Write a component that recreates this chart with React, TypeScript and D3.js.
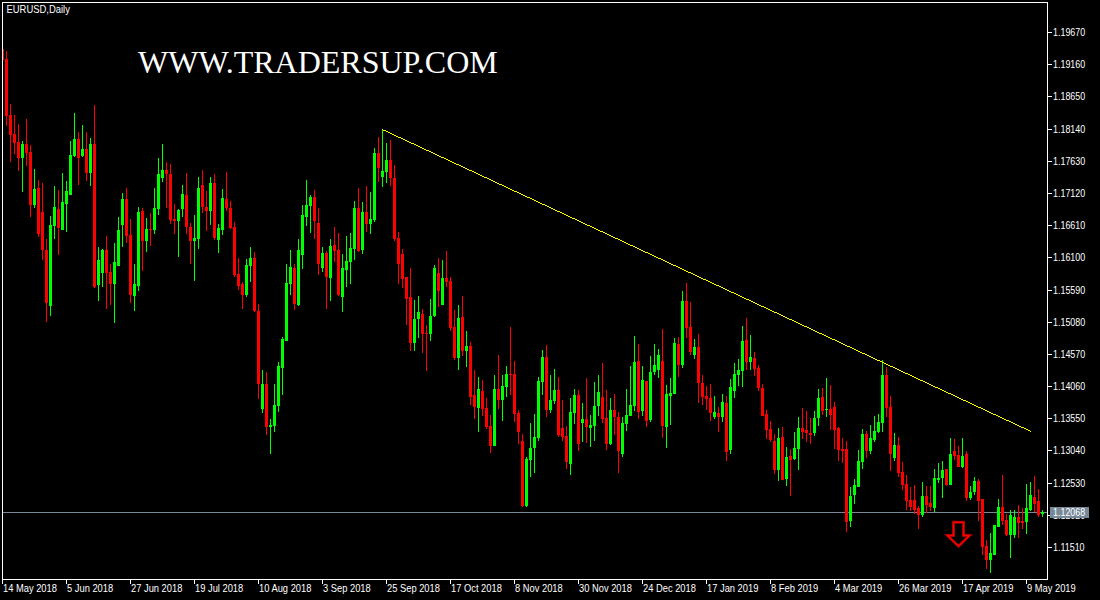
import React from "react";
import * as d3 from "d3";

const PIP = 0.0001;
const highs = [11941,11938,11854,11836,11822,11795,11830,11789,11751,11733,11729,11640,11676,11724,11717,11744,11732,11795,11839,11809,11820,11809,11800,11852,11627,11624,11645,11600,11633,11675,11713,11721,11672,11600,11691,11689,11673,11681,11721,11768,11790,11762,11759,11695,11687,11725,11744,11665,11678,11738,11749,11716,11738,11743,11664,11719,11746,11700,11667,11610,11572,11608,11627,11619,11537,11432,11429,11355,11410,11445,11485,11600,11622,11600,11640,11694,11733,11710,11717,11689,11627,11621,11640,11659,11649,11616,11645,11649,11700,11721,11698,11724,11714,11784,11801,11814,11792,11797,11757,11651,11624,11580,11594,11543,11550,11529,11504,11545,11599,11610,11607,11621,11580,11527,11535,11550,11494,11477,11432,11421,11416,11388,11361,11424,11456,11424,11439,11500,11447,11369,11331,11294,11348,11363,11421,11464,11472,11424,11434,11421,11385,11344,11388,11402,11401,11380,11420,11361,11413,11424,11443,11401,11388,11394,11366,11358,11402,11439,11486,11473,11439,11415,11454,11473,11466,11497,11408,11420,11483,11485,11557,11570,11540,11481,11489,11424,11407,11410,11391,11374,11394,11391,11418,11443,11450,11502,11515,11488,11461,11440,11410,11369,11351,11331,11340,11342,11310,11307,11334,11358,11372,11367,11356,11367,11402,11404,11420,11408,11382,11342,11324,11320,11247,11260,11305,11339,11336,11345,11359,11363,11448,11437,11391,11332,11326,11286,11266,11247,11250,11217,11255,11248,11248,11275,11285,11288,11275,11324,11323,11312,11324,11304,11248,11263,11260,11228,11163,11174,11187,11228,11266,11204,11210,11210,11218,11214,11252,11255,11264,11244,11210];
const lows = [11923,11819,11762,11775,11748,11714,11755,11675,11689,11643,11607,11508,11518,11640,11614,11654,11651,11710,11770,11725,11770,11732,11724,11562,11542,11564,11529,11535,11507,11597,11627,11633,11538,11526,11557,11589,11619,11629,11648,11678,11730,11689,11664,11648,11611,11675,11648,11600,11573,11624,11681,11652,11662,11638,11618,11646,11684,11656,11580,11559,11529,11548,11572,11524,11386,11364,11329,11299,11334,11366,11393,11478,11551,11527,11534,11592,11660,11649,11640,11583,11588,11529,11542,11603,11550,11524,11564,11569,11607,11619,11616,11651,11648,11667,11730,11722,11729,11724,11637,11569,11562,11504,11462,11462,11483,11459,11431,11478,11516,11532,11535,11564,11494,11448,11432,11454,11437,11377,11355,11334,11359,11339,11301,11312,11370,11351,11389,11393,11350,11315,11215,11215,11263,11269,11320,11393,11358,11364,11378,11326,11320,11275,11266,11347,11304,11318,11317,11310,11320,11359,11348,11305,11313,11329,11269,11294,11336,11359,11367,11355,11359,11342,11350,11424,11420,11324,11309,11345,11394,11421,11435,11483,11456,11450,11380,11377,11369,11351,11355,11334,11350,11288,11299,11388,11407,11405,11432,11432,11423,11399,11359,11323,11318,11267,11256,11258,11248,11233,11290,11274,11323,11318,11315,11328,11344,11361,11358,11337,11307,11288,11285,11176,11183,11220,11247,11275,11293,11299,11318,11332,11334,11358,11272,11288,11263,11242,11210,11209,11204,11180,11199,11206,11209,11207,11253,11229,11248,11250,11290,11279,11277,11225,11226,11234,11193,11139,11117,11111,11139,11183,11187,11169,11134,11166,11166,11180,11172,11209,11207,11199,11199];
const opens = [11941,11925,11836,11806,11794,11768,11790,11778,11694,11721,11683,11622,11534,11660,11687,11654,11695,11710,11771,11798,11771,11782,11744,11790,11567,11586,11622,11588,11569,11597,11662,11703,11646,11550,11565,11684,11637,11656,11654,11687,11736,11749,11743,11672,11668,11687,11710,11659,11637,11640,11725,11691,11684,11729,11638,11654,11703,11689,11659,11584,11569,11551,11597,11610,11526,11370,11410,11342,11344,11375,11435,11478,11569,11594,11535,11614,11675,11692,11706,11665,11594,11618,11578,11630,11622,11548,11591,11603,11624,11689,11622,11683,11664,11670,11776,11738,11746,11765,11736,11641,11616,11580,11548,11475,11513,11521,11491,11489,11518,11586,11535,11578,11573,11500,11451,11516,11462,11470,11393,11372,11399,11372,11344,11312,11402,11385,11405,11426,11426,11364,11320,11217,11290,11309,11324,11413,11453,11369,11383,11401,11340,11328,11283,11364,11393,11348,11355,11340,11344,11375,11389,11356,11315,11369,11358,11299,11347,11359,11375,11447,11367,11415,11353,11429,11432,11447,11342,11391,11394,11473,11440,11542,11500,11456,11469,11412,11391,11388,11358,11364,11358,11380,11305,11399,11424,11431,11480,11445,11451,11435,11404,11363,11339,11320,11274,11326,11260,11296,11291,11307,11340,11337,11332,11332,11356,11389,11369,11370,11374,11340,11307,11307,11193,11234,11247,11286,11331,11304,11321,11334,11348,11424,11374,11293,11313,11271,11252,11226,11226,11214,11202,11233,11222,11214,11258,11261,11275,11250,11304,11298,11279,11299,11229,11239,11256,11228,11153,11131,11139,11183,11215,11195,11171,11171,11199,11193,11191,11210,11231,11225,11204];
const closes = [11923,11835,11805,11792,11768,11790,11776,11694,11719,11648,11622,11538,11662,11691,11657,11698,11716,11773,11798,11768,11782,11744,11790,11564,11607,11622,11586,11569,11603,11654,11703,11645,11551,11569,11683,11637,11656,11654,11689,11743,11749,11743,11670,11668,11686,11711,11659,11637,11641,11721,11691,11684,11729,11641,11657,11705,11689,11657,11583,11565,11551,11599,11610,11526,11410,11410,11342,11345,11377,11439,11481,11570,11595,11537,11622,11678,11694,11706,11668,11600,11618,11580,11629,11621,11551,11594,11605,11626,11689,11621,11683,11664,11672,11776,11752,11748,11765,11736,11640,11600,11576,11545,11475,11513,11524,11489,11489,11518,11594,11557,11578,11572,11499,11451,11515,11462,11470,11389,11374,11402,11370,11342,11312,11402,11385,11407,11426,11424,11363,11334,11217,11291,11309,11326,11415,11453,11369,11385,11401,11329,11326,11286,11366,11393,11315,11355,11342,11345,11375,11397,11355,11315,11369,11358,11304,11348,11361,11377,11445,11366,11416,11351,11429,11440,11456,11344,11394,11396,11475,11440,11542,11499,11461,11469,11412,11389,11386,11364,11366,11358,11382,11302,11405,11426,11432,11478,11445,11453,11434,11404,11359,11337,11321,11274,11324,11258,11294,11290,11309,11340,11334,11332,11329,11356,11388,11367,11370,11361,11337,11305,11304,11191,11233,11250,11288,11331,11304,11324,11336,11350,11424,11372,11299,11313,11269,11250,11225,11215,11210,11202,11233,11218,11215,11261,11261,11274,11250,11299,11296,11279,11296,11229,11239,11256,11225,11152,11131,11142,11187,11215,11193,11171,11202,11199,11190,11190,11214,11234,11220,11202,11207];

const dateLabels = ["14 May 2018","5 Jun 2018","27 Jun 2018","19 Jul 2018","10 Aug 2018","3 Sep 2018","25 Sep 2018","17 Oct 2018","8 Nov 2018","30 Nov 2018","24 Dec 2018","17 Jan 2019","8 Feb 2019","4 Mar 2019","26 Mar 2019","17 Apr 2019","9 May 2019"];
const dateStep = 16;
const priceTicks = [1.1967,1.1916,1.1865,1.1814,1.1763,1.1712,1.1661,1.161,1.1559,1.1508,1.1457,1.1406,1.1355,1.1304,1.1253,1.1202,1.1151];
const lastPrice = 1.12068;
const trendFrom = { bar: 95, price: 1.1814 };
const trendTo = { bar: 257, price: 1.1336 };
const arrowAt = { bar: 239, top: 1.1191, shoulder: 1.1170, tip: 1.1153 };
const title = "WWW.TRADERSUP.COM";
const symbolLabel = "EURUSD,Daily";

const W = 1100, H = 600;
const frame = { left: 2, top: 2, right: 1047, bottom: 579 };
const UP = "#00ff00", DOWN = "#ff0000";
const FONT = "'Liberation Sans', sans-serif";

const x = d3.scaleLinear().domain([0, 260]).range([2, 1042]);
const y = d3.scaleLinear().domain([1.1151, 1.1967]).range([547.5, 32.5]);
const py = (p: number) => Math.round(y(p));
const tickY = (p: number) => Math.floor(y(p));
const fmt = d3.format(".5f");

function Label({ px, py: ly, sx, fill = "#fff", children }: { px: number; py: number; sx: number; fill?: string; children: string }) {
  return <text transform={`translate(${px},${ly}) scale(${sx},1)`} fill={fill} fontFamily={FONT} fontSize={10.5}>{children}</text>;
}

export default function App() {
  const ax = x(arrowAt.bar) + 0.5;
  const yT = y(arrowAt.top), yS = y(arrowAt.shoulder), yP = y(arrowAt.tip);
  const arrowPath = d3.line()([
    [ax - 5, yT], [ax + 5, yT], [ax + 5, yS], [ax + 11, yS], [ax, yP], [ax - 11, yS], [ax - 5, yS],
  ] as [number, number][]) + "Z";
  const trendX0 = x(trendFrom.bar), trendX1 = x(trendTo.bar);
  const trendY = d3.scaleLinear().domain([trendX0, trendX1]).range([y(trendFrom.price), y(trendTo.price)]);
  return (
    <svg width={W} height={H} style={{ position: "absolute", left: 0, top: 0, display: "block", background: "#000" }}>
      <defs>
        <clipPath id="plot"><rect x={frame.left + 1} y={frame.top + 1} width={frame.right - frame.left - 1} height={frame.bottom - frame.top - 1} /></clipPath>
      </defs>
      <rect width={W} height={H} fill="#000" />
      <g clipPath="url(#plot)" shapeRendering="crispEdges">
        <line x1={frame.left} x2={frame.right} y1={py(lastPrice) + 0.5} y2={py(lastPrice) + 0.5} stroke="#778899" />
        {highs.map((_, i) => {
          const up = closes[i] >= opens[i];
          const c = up ? UP : DOWN;
          const top = py(Math.max(opens[i], closes[i]) * PIP);
          const bot = py(Math.min(opens[i], closes[i]) * PIP);
          const hi = py(highs[i] * PIP), lo = py(lows[i] * PIP);
          return (
            <g key={i} fill={c}>
              <rect x={x(i)} y={hi} width={1} height={Math.max(1, lo - hi)} />
              <rect x={x(i) - 1} y={top} width={3} height={Math.max(1, bot - top)} />
            </g>
          );
        })}
      </g>
      <g fill="#ffff00" shapeRendering="crispEdges">
        {d3.range(trendX0, trendX1 + 1).map((px) => <rect key={px} x={px} y={Math.round(trendY(px))} width={1} height={1} />)}
      </g>
      <path d={arrowPath} fill="none" stroke="#8c0000" strokeWidth={3} />
      <path d={arrowPath} fill="none" stroke="#ff0000" strokeWidth={1.5} />
      <text x={138} y={73} fill="#fff" fontFamily="'Liberation Serif', serif" fontSize={32}>{title}</text>
      <Label px={6.5} py={13} sx={0.9}>{symbolLabel}</Label>
      <g shapeRendering="crispEdges" stroke="#fff" fill="none">
        <rect x={frame.left + 0.5} y={frame.top + 0.5} width={frame.right - frame.left} height={frame.bottom - frame.top} />
        {dateLabels.map((_, k) => <line key={k} x1={x(k * dateStep) + 0.5} x2={x(k * dateStep) + 0.5} y1={frame.bottom} y2={frame.bottom + 5} />)}
        {priceTicks.map((p) => <line key={p} x1={frame.right} x2={frame.right + 5} y1={tickY(p) + 0.5} y2={tickY(p) + 0.5} />)}
      </g>
      <g>
        {dateLabels.map((d, k) => <Label key={d} px={x(k * dateStep) + 1} py={592} sx={0.89}>{d}</Label>)}
        {priceTicks.map((p) => <Label key={p} px={1053} py={tickY(p) + 4} sx={0.85}>{fmt(p)}</Label>)}
      </g>
      <rect x={1050} y={507} width={39} height={11} fill="#778899" shapeRendering="crispEdges" />
      <Label px={1053} py={py(lastPrice) + 4} sx={0.85}>{fmt(lastPrice)}</Label>
    </svg>
  );
}
